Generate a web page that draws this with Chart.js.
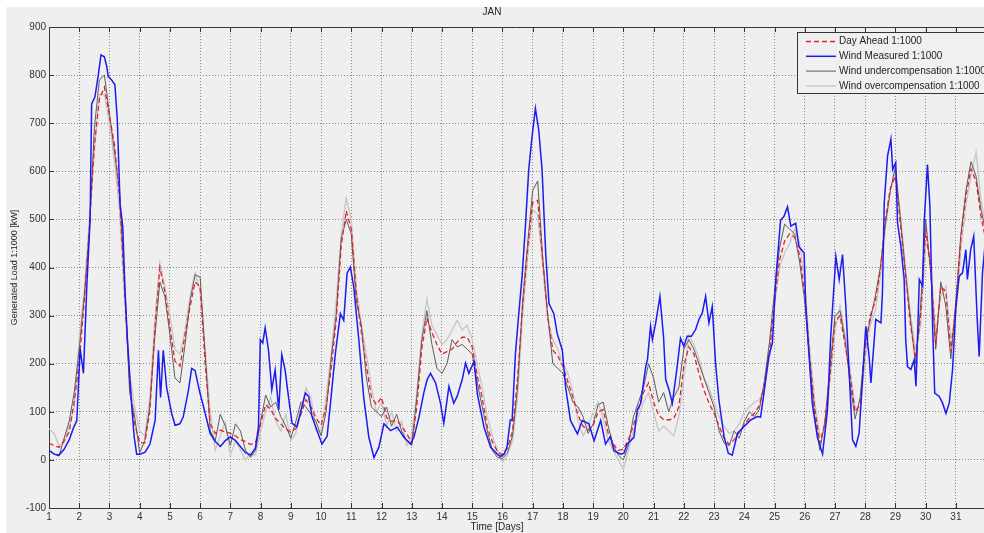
<!DOCTYPE html>
<html>
<head>
<meta charset="utf-8">
<title>JAN</title>
<script src="https://cdn.jsdelivr.net/npm/chart.js@4.4.1/dist/chart.umd.min.js"></script>
<style>
  html, body { margin: 0; padding: 0; background: #ffffff; }
  canvas { display: block; }
</style>
</head>
<body>
<canvas id="loadChart" width="984" height="533"></canvas>
<script>
// time base of the forecast series: one sample every 4 hours
const forecastDays = Array.from({ length: 187 }, (_, i) => 1 + i / 6);

// Day Ahead forecast [kW, 1:1000]
const dayAhead = [
  35, 30, 26, 40, 58, 120, 205, 330, 480, 655,
  750, 775, 715, 655, 545, 355, 160, 75, 36, 35,
  100, 270, 400, 350, 275, 205, 195, 260, 318, 370,
  360, 200, 75, 55, 62, 58, 55, 50, 42, 38,
  32, 36, 75, 115, 105, 86, 75, 64, 58, 65,
  95, 125, 110, 87, 72, 110, 190, 290, 445, 518,
  480, 345, 265, 195, 130, 115, 130, 88, 80, 82,
  70, 55, 35, 110, 232, 295, 265, 240, 220, 225,
  230, 245, 255, 255, 235, 175, 128, 68, 38, 18,
  10, 25, 60, 170, 320, 440, 535, 540, 415, 298,
  228, 216, 195, 162, 130, 93, 70, 62, 72, 100,
  105, 55, 33, 20, 22, 42, 72, 105, 140, 160,
  120, 93, 84, 83, 86, 110, 195, 235, 220, 180,
  145, 118, 97, 70, 45, 32, 42, 57, 73, 87,
  97, 113, 155, 225, 330, 415, 455, 470, 463, 425,
  345, 210, 105, 35, 75, 175, 285, 300, 240, 175,
  100, 115, 230, 300, 330, 395, 500, 565, 590, 490,
  385, 280, 210, 300, 480, 395, 240, 360, 350, 225,
  319, 462, 549, 605, 580, 505, 455
];

// Wind undercompensation
const underComp = [
  20, 12, 8, 45, 80, 140, 230, 340, 470, 690,
  790, 800, 720, 640, 560, 370, 140, 90, 15, 40,
  110, 255, 370, 340, 260, 170, 160, 240, 330, 385,
  380, 220, 60, 40, 95, 70, 30, 75, 60, 20,
  5, 20, 80, 135, 110, 120, 90, 70, 45, 80,
  120, 110, 95, 80, 50, 100, 210, 300, 460, 500,
  470, 330, 280, 170, 110, 100, 90, 110, 70, 95,
  60, 40, 30, 130, 250, 310, 240, 190, 180, 200,
  250, 235, 240, 230, 220, 160, 110, 60, 20, 5,
  3, 15, 50, 150, 330, 450, 560, 580, 420, 300,
  200, 190, 180, 150, 120, 110, 90, 55, 75, 115,
  120, 70, 30, 10, 0, 30, 90, 120, 150, 200,
  170, 120, 140, 100, 130, 150, 230, 250, 230, 200,
  170, 140, 110, 60, 35, 30, 60, 45, 80, 100,
  90, 105, 165, 245, 350, 440, 490, 480, 470, 410,
  330, 200, 90, 20, 80, 190, 300, 310, 250, 160,
  85, 130, 245, 290, 340, 400, 490, 560, 610, 500,
  390, 290, 200, 320, 500, 390, 230, 370, 320, 210,
  330, 470, 560, 620, 590, 520, 470
];

// Wind overcompensation
const overComp = [
  65, 55, 30, 35, 70, 110, 250, 350, 500, 640,
  760, 760, 700, 620, 520, 330, 180, 110, 60, 50,
  130, 290, 410, 360, 300, 230, 220, 270, 340, 390,
  350, 230, 100, 20, 50, 80, 10, 40, 20, 0,
  15, 10, 60, 100, 130, 80, 60, 95, 40, 55,
  100, 150, 130, 60, 60, 130, 220, 330, 470, 545,
  500, 360, 280, 220, 150, 100, 120, 70, 100, 60,
  80, 30, 50, 140, 260, 335, 280, 260, 240, 250,
  270, 290, 270, 280, 250, 200, 150, 90, 50, 20,
  -5, 10, 40, 130, 300, 420, 520, 510, 400, 290,
  250, 230, 200, 180, 140, 80, 50, 70, 100, 120,
  85, 40, 20, 0, -20, 20, 60, 90, 120, 140,
  100, 60, 70, 60, 50, 90, 170, 260, 240, 210,
  170, 150, 120, 90, 70, 55, 60, 75, 100, 110,
  120, 125, 150, 210, 320, 400, 430, 450, 480, 450,
  370, 230, 120, 50, 60, 160, 270, 320, 260, 190,
  110, 100, 210, 280, 310, 380, 480, 560, 600, 510,
  400, 300, 230, 280, 450, 420, 260, 340, 360, 250,
  300, 440, 530, 590, 640, 540, 480
];

// Wind measured: read at uneven times
const measuredDays = [
  1.0, 1.17, 1.33, 1.5, 1.67, 1.80, 1.92, 2.03, 2.14, 2.25,
  2.36, 2.41, 2.52, 2.63, 2.72, 2.83, 2.91, 2.96, 3.07, 3.18,
  3.26, 3.35, 3.44, 3.51, 3.59, 3.66, 3.73, 3.82, 3.90, 4.01,
  4.18, 4.34, 4.51, 4.62, 4.69, 4.78, 4.89, 5.06, 5.17, 5.33,
  5.44, 5.61, 5.72, 5.83, 5.99, 6.11, 6.22, 6.33, 6.5, 6.67,
  6.83, 7.0, 7.17, 7.33, 7.5, 7.67, 7.83, 7.93, 7.99, 8.07,
  8.15, 8.26, 8.37, 8.48, 8.6, 8.7, 8.81, 8.92, 9.04, 9.2,
  9.37, 9.48, 9.59, 9.7, 9.86, 10.03, 10.2, 10.31, 10.47, 10.64,
  10.75, 10.86, 10.97, 11.08, 11.25, 11.41, 11.58, 11.75, 11.91, 12.08,
  12.30, 12.52, 12.74, 12.96, 13.07, 13.24, 13.40, 13.51, 13.62, 13.79,
  13.95, 14.06, 14.23, 14.39, 14.5, 14.67, 14.78, 14.89, 15.06, 15.17,
  15.39, 15.61, 15.83, 15.93, 16.05, 16.15, 16.26, 16.32, 16.43, 16.54,
  16.65, 16.76, 16.87, 16.98, 17.09, 17.2, 17.31, 17.43, 17.54, 17.70,
  17.81, 17.98, 18.09, 18.25, 18.48, 18.64, 18.86, 19.03, 19.25, 19.41,
  19.57, 19.69, 19.91, 20.02, 20.13, 20.35, 20.46, 20.57, 20.74, 20.80,
  20.90, 20.96, 21.07, 21.21, 21.33, 21.40, 21.51, 21.62, 21.68, 21.78,
  21.89, 22.0, 22.11, 22.25, 22.39, 22.5, 22.61, 22.72, 22.83, 22.94,
  23.05, 23.16, 23.33, 23.47, 23.60, 23.78, 23.99, 24.21, 24.43, 24.54,
  24.65, 24.81, 24.93, 25.04, 25.2, 25.31, 25.43, 25.54, 25.7, 25.81,
  25.98, 26.03, 26.14, 26.25, 26.42, 26.59, 26.75, 26.86, 27.03, 27.14,
  27.25, 27.36, 27.47, 27.58, 27.69, 27.80, 27.91, 28.02, 28.13, 28.19,
  28.35, 28.52, 28.57, 28.63, 28.74, 28.85, 28.91, 29.01, 29.07, 29.18,
  29.29, 29.34, 29.40, 29.51, 29.62, 29.68, 29.79, 29.90, 29.95, 30.06,
  30.14, 30.23, 30.30, 30.45, 30.56, 30.67, 30.78, 30.89, 31.0, 31.11,
  31.22, 31.33, 31.38, 31.49, 31.59, 31.7, 31.77, 31.88, 31.96
];
const measuredLoad = [
  20, 12, 10, 22, 42, 65, 82, 231, 180, 360,
  500, 740, 755, 800, 842, 838, 818, 797, 790, 780,
  707, 533, 485, 360, 255, 186, 117, 47, 12, 12,
  16, 33, 82, 228, 130, 228, 151, 96, 72, 75,
  89, 144, 190, 186, 140, 111, 83, 55, 38, 28,
  40, 48, 40, 28, 15, 10, 25, 69, 250, 243,
  275, 229, 146, 187, 104, 219, 187, 132, 76, 69,
  111, 139, 132, 90, 62, 33, 49, 117, 220, 304,
  290, 388, 401, 360, 249, 130, 47, 5, 26, 75,
  61, 68, 47, 33, 47, 89, 140, 167, 180, 160,
  118, 76, 153, 118, 132, 167, 201, 180, 205, 137,
  68, 26, 12, 7, 12, 26, 83, 82, 221, 304,
  381, 486, 604, 672, 731, 686, 604, 430, 325, 304,
  263, 228, 151, 82, 54, 82, 75, 40, 82, 33,
  49, 19, 12, 14, 33, 47, 104, 117, 194, 210,
  278, 250, 285, 340, 255, 167, 146, 118, 146, 194,
  253, 236, 257, 257, 271, 292, 305, 340, 285, 319,
  201, 125, 49, 14, 10, 56, 69, 83, 90, 89,
  139, 215, 243, 374, 498, 506, 526, 486, 492, 443,
  430, 325, 220, 117, 47, 12, 103, 257, 423, 375,
  427, 319, 181, 42, 28, 56, 167, 278, 215, 160,
  292, 285, 347, 535, 632, 667, 604, 618, 493, 444,
  375, 250, 194, 188, 208, 153, 375, 361, 493, 614,
  528, 278, 139, 132, 118, 97, 118, 188, 319, 382,
  389, 437, 375, 437, 465, 299, 215, 389, 444
];

const yTicks = [-100, 0, 100, 200, 300, 400, 500, 600, 700, 800, 900];
const dayRange = [1, 31.93];

const fontFamily = '"Liberation Sans", Arial, sans-serif';

function toPoints(xs, ys) {
  return xs.map((d, i) => ({ x: d, y: ys[i] }));
}

// MATLAB style box, inward ticks, legend box and x label
const framePlugin = {
  id: 'matlabFrame',
  beforeDraw(chart) {
    const ctx = chart.ctx;
    ctx.save();
    ctx.fillStyle = '#ffffff';
    ctx.fillRect(0, 0, chart.width, chart.height);
    ctx.fillStyle = '#efefef';
    ctx.fillRect(6, 7, chart.width - 6, chart.height - 7);
    ctx.restore();
  },
  afterDraw(chart) {
    const { ctx, chartArea: a, scales: { x, y } } = chart;
    ctx.save();
    ctx.strokeStyle = '#333333';
    ctx.lineWidth = 1;
    ctx.beginPath();
    ctx.moveTo(a.left, a.top + 0.5);
    ctx.lineTo(a.right, a.top + 0.5);
    x.ticks.forEach(t => {
      const px = Math.round(x.getPixelForValue(t.value)) + 0.5;
      ctx.moveTo(px, a.bottom);
      ctx.lineTo(px, a.bottom - 5);
      ctx.moveTo(px, a.top);
      ctx.lineTo(px, a.top + 5);
    });
    y.ticks.forEach(t => {
      const py = Math.round(y.getPixelForValue(t.value)) + 0.5;
      ctx.moveTo(a.left, py);
      ctx.lineTo(a.left + 5, py);
    });
    ctx.stroke();

    // legend
    ctx.fillStyle = '#f0f0f0';
    ctx.fillRect(797, 32, 195, 62);
    ctx.strokeStyle = '#333333';
    ctx.strokeRect(797.5, 32.5, 195, 61);
    ctx.font = '10px ' + fontFamily;
    ctx.textBaseline = 'middle';
    ctx.textAlign = 'left';
    chart.data.datasets.forEach((ds, i) => {
      const ly = 41.5 + i * 14.8;
      ctx.save();
      ctx.strokeStyle = ds.borderColor;
      ctx.lineWidth = ds.borderWidth;
      ctx.setLineDash(ds.borderDash || []);
      ctx.beginPath();
      ctx.moveTo(806, ly);
      ctx.lineTo(836, ly);
      ctx.stroke();
      ctx.restore();
      ctx.fillStyle = '#1e1e1e';
      ctx.fillText(ds.label, 839, ly);
    });

    // x axis label
    ctx.textAlign = 'center';
    ctx.fillStyle = '#262626';
    ctx.fillText('Time [Days]', 497, 527);
    ctx.restore();
  }
};

const ctx = document.getElementById('loadChart').getContext('2d');
new Chart(ctx, {
  type: 'line',
  data: {
    datasets: [
      {
        label: 'Day Ahead 1:1000',
        data: toPoints(forecastDays, dayAhead),
        borderColor: '#e3202c',
        borderWidth: 1.3,
        borderDash: [5, 3],
        order: 1
      },
      {
        label: 'Wind Measured 1:1000',
        data: toPoints(measuredDays, measuredLoad),
        borderColor: '#1b1bf2',
        borderWidth: 1.5,
        order: 0
      },
      {
        label: 'Wind undercompensation 1:1000',
        data: toPoints(forecastDays, underComp),
        borderColor: '#5c5c5c',
        borderWidth: 1,
        order: 2
      },
      {
        label: 'Wind overcompensation 1:1000',
        data: toPoints(forecastDays, overComp),
        borderColor: '#c6c6c6',
        borderWidth: 1.3,
        order: 3
      }
    ]
  },
  options: {
    responsive: false,
    animation: false,
    devicePixelRatio: 1,
    layout: { padding: 0 },
    elements: {
      point: { radius: 0 },
      line: { tension: 0, fill: false }
    },
    plugins: {
      legend: { display: false },
      tooltip: { enabled: false },
      title: {
        display: true,
        text: 'JAN',
        color: '#262626',
        font: { family: fontFamily, size: 10, weight: 'normal' },
        padding: { top: 6, bottom: 9 }
      }
    },
    scales: {
      x: {
        type: 'linear',
        min: dayRange[0],
        max: dayRange[1],
        afterFit: s => { s.height = 25; },
        ticks: {
          stepSize: 1,
          includeBounds: false,
          padding: 3,
          maxRotation: 0,
          autoSkip: false,
          color: '#333333',
          font: { family: fontFamily, size: 10 }
        },
        grid: { color: '#8a8a8a', drawTicks: false },
        border: { display: true, color: '#333333', width: 1, dash: [1, 2] }
      },
      y: {
        min: yTicks[0],
        max: yTicks[yTicks.length - 1],
        afterFit: s => { s.width = 49; },
        afterBuildTicks: s => { s.ticks = yTicks.map(v => ({ value: v })); },
        ticks: {
          padding: 3,
          color: '#333333',
          font: { family: fontFamily, size: 10 }
        },
        grid: { color: '#8a8a8a', drawTicks: false },
        border: { display: true, color: '#333333', width: 1, dash: [1, 2] },
        title: {
          display: true,
          text: 'Generated Load 1:1000 [kW]',
          color: '#262626',
          font: { family: fontFamily, size: 9 },
          padding: { top: 9, bottom: 0 }
        }
      }
    }
  },
  plugins: [framePlugin]
});
</script>
</body>
</html>
